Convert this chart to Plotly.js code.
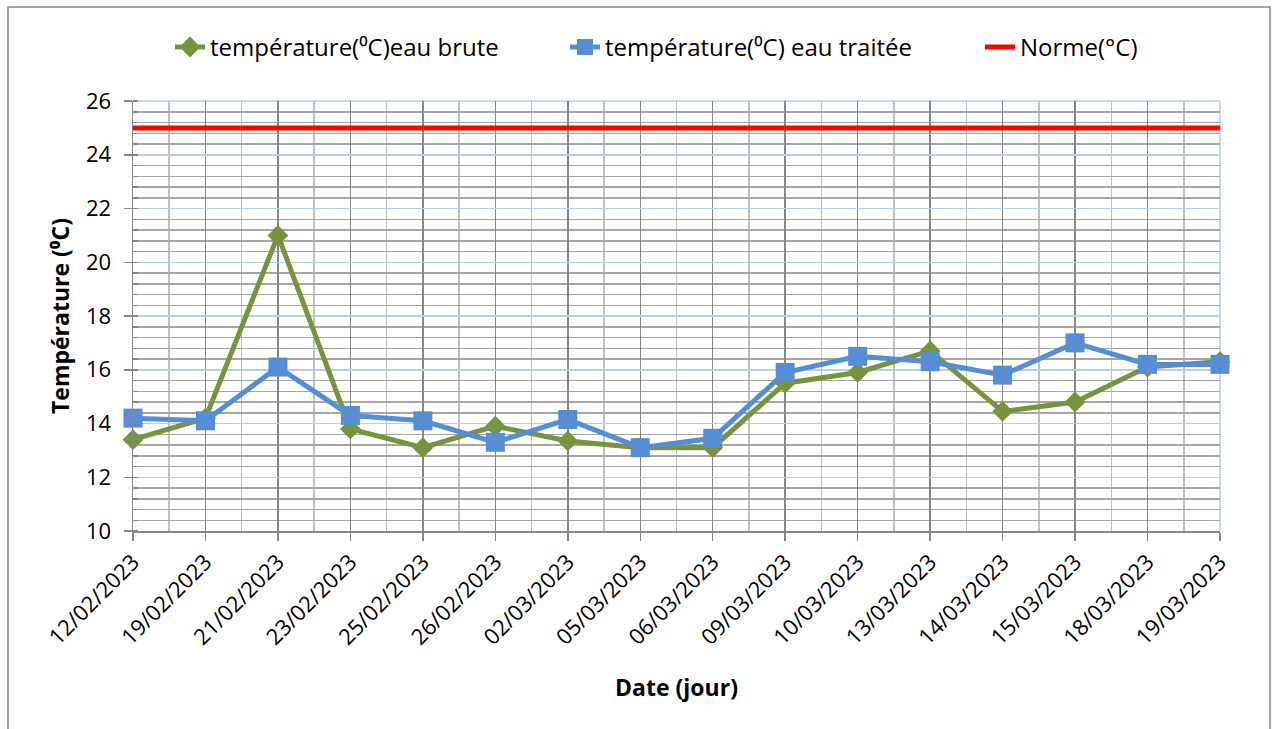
<!DOCTYPE html>
<html>
<head>
<meta charset="utf-8">
<script src="https://cdn.plot.ly/plotly-3.0.1.min.js"></script>
<style>html,body{margin:0;padding:0;background:#fff;}#chart{width:1276px;height:729px;}</style>
</head>
<body>
<div id="chart"></div>
<script>
var dates = ["12/02/2023","19/02/2023","21/02/2023","23/02/2023","25/02/2023","26/02/2023","02/03/2023","05/03/2023","06/03/2023","09/03/2023","10/03/2023","13/03/2023","14/03/2023","15/03/2023","18/03/2023","19/03/2023"];
var eauBrute = [13.4, 14.2, 21.0, 13.8, 13.1, 13.9, 13.35, 13.1, 13.1, 15.5, 15.9, 16.7, 14.45, 14.8, 16.1, 16.3];
var eauTraitee = [14.2, 14.1, 16.1, 14.3, 14.1, 13.3, 14.15, 13.1, 13.45, 15.9, 16.5, 16.3, 15.8, 17.0, 16.2, 16.2];
var norme = [25, 25, 25, 25, 25, 25, 25, 25, 25, 25, 25, 25, 25, 25, 25, 25];
var seriesNames = ["température(⁰C)eau brute", "température(⁰C) eau traitée", "Norme(°C)"];

var idx = dates.map(function(d, i){ return i; });
var FONT = "'Open Sans', Lato, sans-serif";

var traces = [
  {x: idx, y: eauBrute, name: seriesNames[0], type: "scatter", mode: "lines+markers", legend: "legend",
   line: {color: "#77933c", width: 5}, marker: {symbol: "diamond", size: 16, color: "#77933c"}, cliponaxis: false},
  {x: idx, y: eauTraitee, name: seriesNames[1], type: "scatter", mode: "lines+markers", legend: "legend2",
   line: {color: "#558ed5", width: 5}, marker: {symbol: "square", size: 19, color: "#558ed5"}, cliponaxis: false},
  {x: idx, y: norme, name: seriesNames[2], type: "scatter", mode: "lines", legend: "legend3",
   line: {color: "#ff0000", width: 5}, cliponaxis: false}
];

function legendAt(px) {
  return {orientation: "h", xref: "container", yref: "container", x: px / 1276, xanchor: "left",
          y: 0.935, yanchor: "middle", font: {family: FONT, size: 24, color: "#000"}, itemwidth: 30,
          bgcolor: "rgba(0,0,0,0)"};
}

var layout = {
  width: 1276, height: 729,
  margin: {l: 133, r: 56, t: 101, b: 198},
  paper_bgcolor: "#fff", plot_bgcolor: "#fff",
  font: {family: FONT, size: 22, color: "#000"},
  showlegend: true,
  legend: legendAt(170),
  legend2: legendAt(565),
  legend3: legendAt(980),
  xaxis: {
    range: [0, 15], tickmode: "array", tickvals: idx, ticktext: dates, tickangle: -45,
    showgrid: true, gridcolor: "#878787", gridwidth: 1.5,
    ticks: "outside", ticklen: 8, tickcolor: "#878787", tickwidth: 1.5,
    showline: true, linecolor: "#878787", linewidth: 1.5,
    minor: {dtick: 0.5, tick0: 0, showgrid: true, gridcolor: "#c0c0c0", gridwidth: 1.5, ticks: ""},
    zeroline: false, tickfont: {family: FONT, size: 22, color: "#000"},
    title: {text: "<b>Date (jour)</b>", font: {family: FONT, size: 23, color: "#000"}, standoff: 30}
  },
  yaxis: {
    range: [10, 26], dtick: 2, tick0: 10,
    showgrid: true, gridcolor: "#b9cde5", gridwidth: 1.5,
    ticks: "outside", ticklen: 8, tickcolor: "#878787", tickwidth: 1.5,
    showline: true, linecolor: "#878787", linewidth: 1.5,
    minor: {dtick: 0.4, tick0: 10, showgrid: true, gridcolor: "#a6a6a6", gridwidth: 1.5, ticks: "inside", ticklen: 5, tickcolor: "#878787"},
    zeroline: false, tickfont: {family: FONT, size: 22, color: "#000"}, ticklabelstandoff: 8,
    title: {text: "<b>Température (⁰C)</b>", font: {family: FONT, size: 23, color: "#000"}, standoff: 10}
  },
  shapes: [
    {type: "line", xref: "paper", yref: "paper", x0: 0, x1: 1, y0: 1, y1: 1, line: {color: "#b9cde5", width: 1.5}, layer: "between"},
    {type: "line", xref: "paper", yref: "paper", x0: 1, x1: 1, y0: 0, y1: 1, line: {color: "#b9cde5", width: 1.5}, layer: "between"},
    {type: "rect", xref: "paper", yref: "paper", x0: -0.115, x1: 1.046, y0: -0.49, y1: 1.2186, line: {color: "#898989", width: 1.5}, layer: "above"}
  ]
};

Plotly.newPlot("chart", traces, layout, {displayModeBar: false, staticPlot: true});
</script>
</body>
</html>
